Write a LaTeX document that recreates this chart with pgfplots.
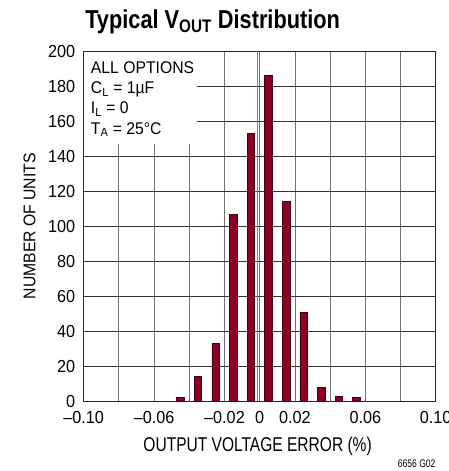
\documentclass[border=0pt]{standalone}
\usepackage{pgfplots}
\pgfplotsset{compat=1.18}
\usepackage{fontspec}
\setmainfont{Liberation Sans}[FakeStretch=0.93]
\newfontfamily\titlefont{Liberation Sans}[FakeStretch=0.84]
\newfontfamily\tickfont{Liberation Sans}[FakeStretch=0.93]
\newfontfamily\xlabfont{Liberation Sans}[FakeStretch=0.78]
\definecolor{barred}{RGB}{140,0,35}
\definecolor{baredge}{RGB}{70,0,20}
\begin{document}
\begin{tikzpicture}
\begin{axis}[
  at={(0,0)}, anchor=south west,
  scale only axis, width=352bp, height=350bp,
  xmin=-0.1, xmax=0.1, ymin=0, ymax=200,
  xtick={-0.1,-0.06,-0.02,0,0.02,0.06,0.1},
  xticklabels={–0.10,–0.06,–0.02,0,0.02,0.06,0.10},
  minor xtick={-0.08,-0.04,0.04,0.08},
  ytick={0,20,...,200},
  grid=both,
  x grid style={black!55, line width=0.8bp},
  y grid style={black!80, line width=0.8bp},
  major tick length=0pt, minor tick length=0pt,
  axis line style={line width=1.3bp, black!85},
  tick label style={font=\tickfont\fontsize{17.5}{19}\selectfont},
  yticklabel style={/pgf/number format/assume math mode=true, xshift=-5bp},
  xticklabel style={yshift=-7bp},
  xlabel={OUTPUT VOLTAGE ERROR (\%)},
  xlabel style={at={(axis description cs:0.494,-0.13)}, anchor=center, font=\xlabfont\fontsize{20}{22}\selectfont},
  ylabel={NUMBER OF UNITS},
  ylabel style={at={(axis description cs:-0.154,0.5)}, anchor=center, font=\fontsize{17}{19}\selectfont},
  clip=false,
]
\fill[white] (axis cs:-0.0996,147) rectangle (axis cs:-0.0355,199.6);
\draw[black!50, line width=0.6bp] (axis cs:-0.0015,0) -- (axis cs:-0.0015,200);
\addplot[ybar, bar width=7.5bp, fill=barred, draw=baredge, line width=0.7bp] coordinates {
(-0.045,2) (-0.035,14) (-0.025,33) (-0.015,107) (-0.005,153) (0.005,186) (0.015,114) (0.025,51) (0.035,8) (0.045,3) (0.055,2)
};
\node[anchor=north west, align=left, inner sep=0pt, font=\fontsize{17}{20.5}\selectfont] at (axis cs:-0.096,194.4)
  {ALL OPTIONS\\C\textsubscript{L} = 1µF\\I\textsubscript{L} = 0\\T\textsubscript{A} = 25°C};
\node[anchor=base west, inner sep=0pt, font=\titlefont\bfseries\fontsize{26}{28}\selectfont] at (axis description cs:0.004,1.065)
  {Typical V\textsubscript{OUT} Distribution};
\node[anchor=base east, inner sep=0pt, font=\xlabfont\fontsize{11}{12}\selectfont] at (axis description cs:1,-0.188) {6656 G02};
\end{axis}
\pgfresetboundingbox
\useasboundingbox (-83.7bp,-69.7bp) rectangle (365.3bp,401.3bp);
\end{tikzpicture}
\end{document}
